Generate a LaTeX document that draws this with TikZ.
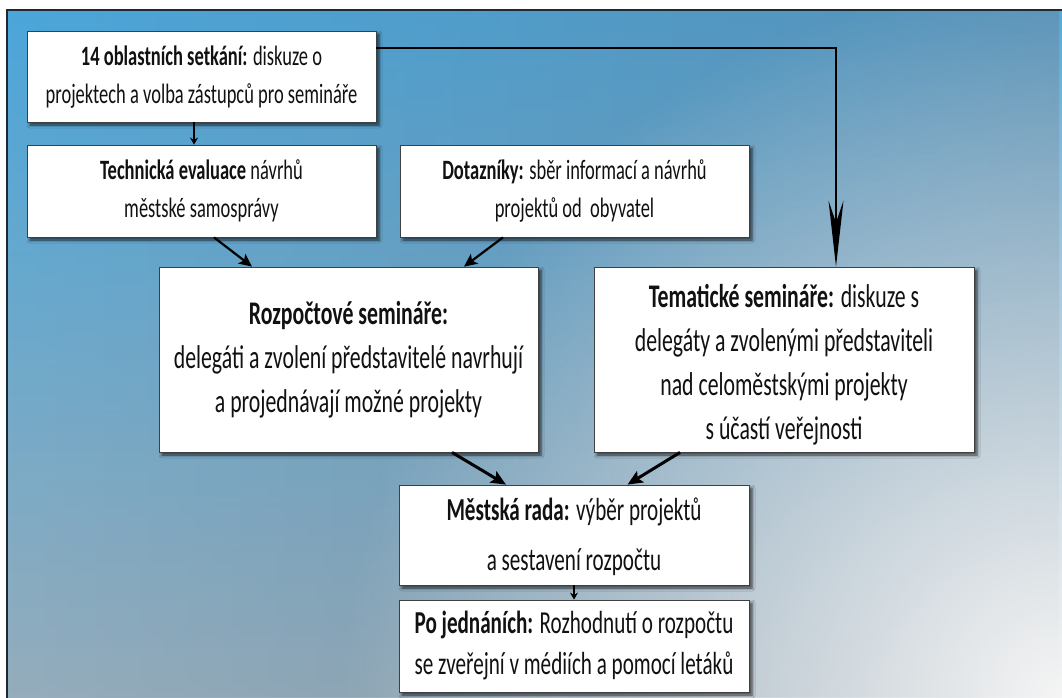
\documentclass[tikz,border=0pt]{standalone}
\usepackage{fontspec}
\usepackage{graphicx}
\setmainfont{Carlito}
\usetikzlibrary{arrows.meta,shadows.blur,fadings,calc}
\definecolor{txtcol}{HTML}{111111}
\definecolor{bgtop}{HTML}{4BA6DA}
\definecolor{bgmid}{HTML}{528EB2}
\definecolor{bgbot}{HTML}{95ADBC}
\definecolor{mutecol}{HTML}{64788C}
\definecolor{glowcol}{HTML}{F5F5F5}
\definecolor{framecol}{HTML}{1E2A33}
\tikzfading[name=glowfade, inner color=transparent!0, outer color=transparent!100]
\tikzfading[name=toright, left color=transparent!100, right color=transparent!0]
\newcommand{\boxtext}[3]{\scalebox{0.66}[1]{\fontsize{#1}{#2}\selectfont\begin{tabular}{@{}c@{}}#3\end{tabular}}}
\begin{document}
\begin{tikzpicture}[x=1pt,y=-1pt,
  box/.style={draw=black!75, line width=0.8pt, fill=white, text=txtcol, align=center, inner sep=0pt,
    blur shadow={shadow xshift=3pt, shadow yshift=-3pt, shadow blur radius=3pt, shadow opacity=70}},
  thinarr/.style={line width=1.5pt, -{Stealth[length=7pt,width=8pt]}},
  medarr/.style={line width=2.2pt, -{Stealth[length=13pt,width=12pt,inset=3pt]}},
  thickarr/.style={line width=3pt, -{Stealth[length=15pt,width=13pt,inset=3pt]}},
  longarr/.style={line width=2.5pt, miter limit=10, -{Stealth[length=66pt,width=15pt,inset=22pt]}}
]
\useasboundingbox (0,0) rectangle (1062,697);
\fill[white] (0,0) rectangle (1062,697);
\begin{scope}
  \clip (7,10) rectangle (1062,697);
  \shade[top color=bgtop, middle color=bgmid, bottom color=bgbot] (7,10) rectangle (1062,697);
  \fill[mutecol, fill opacity=0.45, path fading=toright] (7,10) rectangle (1062,697);
  \fill[glowcol, path fading=glowfade] (1062,697) circle[radius=720pt];
\end{scope}
\draw[framecol, line width=2pt] (7,705) -- (7,10) -- (1070,10);

\node[box, minimum width=349pt, minimum height=91pt] (B1) at (201.5,76.5)
  {\boxtext{28}{38}{\textbf{14 oblastních setkání:} diskuze o\\projektech a volba zástupců pro semináře}};
\node[box, minimum width=349pt, minimum height=92pt] (B2) at (201.5,191)
  {\boxtext{28}{38}{\textbf{Technická evaluace} návrhů\\městské samosprávy}};
\node[box, minimum width=349pt, minimum height=92pt] (B3) at (574.5,191)
  {\boxtext{28}{38}{\textbf{Dotazníky:} sběr informací a návrhů\\projektů od\ \ obyvatel}};
\node[box, minimum width=379pt, minimum height=185pt] (B4) at (348.5,359.5)
  {\boxtext{33}{44}{\textbf{Rozpočtové semináře:}\\delegáti a zvolení představitelé navrhují\\a projednávají možné projekty}};
\node[box, minimum width=380pt, minimum height=185pt] (B5) at (784,359.5)
  {\raisebox{-5pt}[\height][\depth]{\boxtext{33}{44}{\textbf{Tematické semináře:} diskuze s\\delegáty a zvolenými představiteli\\nad celoměstskými projekty\\s účastí veřejnosti}}};
\node[box, minimum width=350pt, minimum height=92pt] (B6) at (574,535)
  {\boxtext{32}{50}{\textbf{Městská rada:} výběr projektů\\a sestavení rozpočtu}};
\node[box, minimum width=350pt, minimum height=92pt] (B7) at (574,646)
  {\boxtext{32}{41}{\textbf{Po jednáních:} Rozhodnutí o rozpočtu\\se zveřejní v médiích a pomocí letáků}};

\coordinate (corner) at (836,48);
\draw[thinarr] ([xshift=-7.5pt]B1.south) -- ([xshift=-7.5pt]B2.north);
\draw[longarr] ([yshift=28.5pt]B1.east) -- (corner) -- ([xshift=52pt]B5.north);
\draw[medarr] ([xshift=12.5pt]B2.south) -- ([xshift=-96.5pt]B4.north);
\draw[medarr] ([xshift=-71.5pt]B3.south) -- ([xshift=115.5pt]B4.north);
\draw[thickarr] ([xshift=103.5pt]B4.south) -- ([xshift=-68pt]B6.north);
\draw[thickarr] ([xshift=-104pt]B5.south) -- ([xshift=53.5pt]B6.north);
\draw[thinarr] (B6.south) -- (B7.north);
\end{tikzpicture}
\end{document}
